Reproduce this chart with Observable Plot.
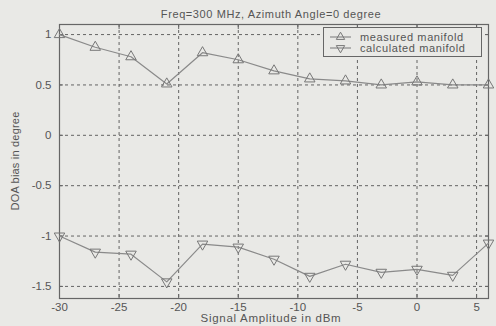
<!DOCTYPE html>
<html>
<head>
<meta charset="utf-8">
<script src="https://cdn.jsdelivr.net/npm/d3@7"></script>
<script src="https://cdn.jsdelivr.net/npm/@observablehq/plot@0.6"></script>
<style>
  html, body { margin: 0; padding: 0; background: #e9e9e6; }
  svg { display: block; }
</style>
</head>
<body>
<div id="chart"></div>
<script>
const title = "Freq=300 MHz, Azimuth Angle=0 degree";
const xLabel = "Signal Amplitude in dBm";
const yLabel = "DOA bias in degree";
const seriesNames = ["measured manifold", "calculated manifold"];
const amplitude = [-30, -27, -24, -21, -18, -15, -12, -9, -6, -3, 0, 3, 6];
const measured = [1.0, 0.874, 0.78, 0.51, 0.82, 0.75, 0.64, 0.56, 0.54, 0.5, 0.53, 0.5, 0.5];
const calculated = [-1.0, -1.16, -1.18, -1.455, -1.08, -1.11, -1.23, -1.40, -1.28, -1.36, -1.33, -1.39, -1.07];
const xTicks = [-30, -25, -20, -15, -10, -5, 0, 5];
const yTicks = [-1.5, -1, -0.5, 0, 0.5, 1];

const bg = "#e9e9e6";
const ink = "#555";
const lineColor = "#8a8a8a";
const font = "'Liberation Sans', Arial, sans-serif";

const rowsM = amplitude.map((x, i) => ({x, y: measured[i]}));
const rowsC = amplitude.map((x, i) => ({x, y: calculated[i]}));
const fmt = d => String(d);

const chart = Plot.plot({
  width: 496,
  height: 326,
  marginLeft: 59,
  marginRight: 8,
  marginTop: 24,
  marginBottom: 28,
  style: {background: bg, fontFamily: font, fontSize: "11px", color: ink},
  x: {domain: [-30, 6]},
  y: {domain: [-1.62, 1.1]},
  marks: [
    Plot.gridX(xTicks, {stroke: "#555", strokeOpacity: 0.9, strokeDasharray: "3,3"}),
    Plot.gridY(yTicks, {stroke: "#555", strokeOpacity: 0.9, strokeDasharray: "3,3"}),
    Plot.axisX(xTicks, {anchor: "bottom", tickSize: 0, tickPadding: 4, tickFormat: fmt, label: null, fill: ink, fontSize: 11.5}),
    Plot.axisY(yTicks, {anchor: "left", tickSize: 0, tickPadding: 8, tickFormat: fmt, label: null, fill: ink, fontSize: 11.5}),
    Plot.axisX(xTicks, {anchor: "bottom", tickSize: -4, text: null, label: null, stroke: "#666"}),
    Plot.axisX(xTicks, {anchor: "top", tickSize: -4, text: null, label: null, stroke: "#666"}),
    Plot.axisY(yTicks, {anchor: "left", tickSize: -4, text: null, label: null, stroke: "#666"}),
    Plot.axisY(yTicks, {anchor: "right", tickSize: -4, text: null, label: null, stroke: "#666"}),
    Plot.frame({stroke: "#666", strokeWidth: 1.2}),
    Plot.line(rowsM, {x: "x", y: "y", stroke: lineColor, strokeWidth: 1.2}),
    Plot.dot(rowsM, {x: "x", y: "y", symbol: "triangle", r: 3.9, stroke: "#777", strokeWidth: 1, fill: "none"}),
    Plot.line(rowsC, {x: "x", y: "y", stroke: lineColor, strokeWidth: 1.2}),
    Plot.dot(rowsC, {x: "x", y: "y", symbol: "triangle", rotate: 180, r: 3.9, stroke: "#777", strokeWidth: 1, fill: "none"})
  ]
});
document.getElementById("chart").appendChild(chart);

const svg = d3.select(chart);
// titles
const tg = svg.append("g").attr("font-family", font).attr("fill", ink).attr("text-anchor", "middle");
tg.append("text").attr("x", 271).attr("y", 14).attr("dy", "0.35em").attr("font-size", "11px")
  .style("letter-spacing", "0.6px").text(title);
tg.append("text").attr("x", 271).attr("y", 318).attr("dy", "0.35em").attr("font-size", "11.5px")
  .style("letter-spacing", "0.7px").text(xLabel);
tg.append("text").attr("transform", "translate(15,161) rotate(-90)").attr("dy", "0.35em").attr("font-size", "11px")
  .style("letter-spacing", "0.2px").text(yLabel);

// legend
const lg = svg.append("g").attr("font-family", font).attr("font-size", "11px").attr("text-anchor", "start");
lg.append("rect").attr("x", 323.5).attr("y", 27.5).attr("width", 158).attr("height", 29)
  .attr("fill", bg).attr("stroke", "#666").attr("stroke-width", 1);
const tri = d3.symbol(d3.symbolTriangle, Math.PI * 3.1 * 3.1)();
seriesNames.forEach((name, i) => {
  const cy = 37 + i * 11;
  lg.append("line").attr("x1", 330).attr("x2", 351).attr("y1", cy).attr("y2", cy)
    .attr("stroke", lineColor).attr("stroke-width", 1.2);
  lg.append("path").attr("d", tri).attr("transform", `translate(340.5,${cy}) rotate(${i ? 180 : 0})`)
    .attr("fill", "none").attr("stroke", "#777");
  lg.append("text").attr("x", 360).attr("y", cy).attr("dy", "0.35em").attr("fill", ink)
    .style("letter-spacing", "0.6px").text(name);
});
</script>
</body>
</html>
